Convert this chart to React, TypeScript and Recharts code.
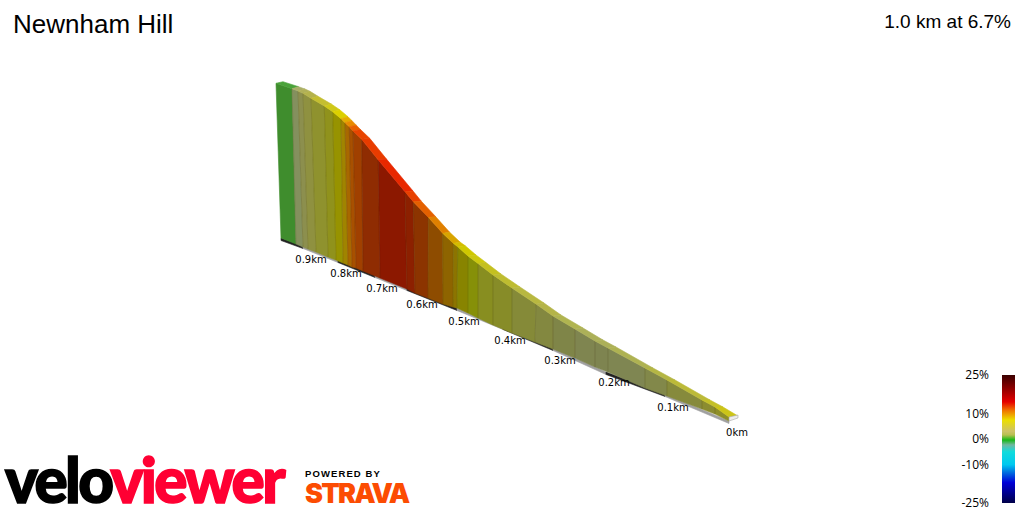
import { BarChart, Bar, Scatter, ComposedChart, XAxis, YAxis, LabelList } from 'recharts';

// wall panel corners (projected units), left to right
const topX = [276, 292, 298, 303, 311, 324.3, 332.7, 341, 345, 349.3, 353, 361.7, 378.3, 405, 413.3, 428.3, 442.7, 453.3, 457.7, 468, 478, 493, 512, 536, 553, 575, 595, 608, 645, 667, 702, 715, 729];
const topY = [83.3, 88.7, 91, 93.3, 98.3, 106, 111.7, 118.7, 122.7, 126.7, 131, 139.3, 160, 191.7, 201.7, 217.3, 233.3, 243.3, 246.7, 256, 263.5, 275, 288, 304, 316, 329, 341, 348, 368, 380, 400, 407, 417];
const baseX = [281, 296, 303, 308, 316, 328, 336, 343, 348, 352, 356, 363, 380, 407, 415, 428, 443, 453, 457, 468, 478, 493, 512, 535, 553, 575, 595, 608, 645, 667, 702, 715, 729];
const baseY = [238, 244, 247, 249, 252, 257, 260, 263, 265, 267, 268, 271, 278, 289, 293, 298, 304, 307, 308, 313, 318, 325, 333, 342, 349, 358, 367, 372, 388, 396, 409, 414, 421];

const wallColors = ['#3f8d2d', '#84905e', '#8c8f4e', '#8f9140', '#8f922e', '#90921c', '#979300', '#a08400', '#a86800', '#a85000', '#a04000', '#8f2c02', '#8c1800', '#8c2000', '#8c3400', '#8e4c00', '#8e6400', '#8c7400', '#888400', '#869008', '#888e20', '#878c28', '#858a38', '#838840', '#7f8548', '#7f8550', '#7e8450', '#7f8652', '#82884a', '#868a3c', '#8b8c30', '#8e8e28'];
const roofColors = ['#4aa23a', '#a8ae68', '#b0b058', '#b4b24c', '#c4be30', '#cfc818', '#dcd000', '#e4ac00', '#e88a00', '#e86000', '#e84400', '#e83c00', '#e82800', '#e84000', '#e46000', '#e08000', '#d8a400', '#d4bc00', '#cfc800', '#ccc810', '#c4c020', '#bebc30', '#b8b840', '#b4b448', '#b0b450', '#acb058', '#acb058', '#aeb252', '#b4b644', '#bcba38', '#c4c028', '#ccc418'];
const depthX = [7, 6.6, 7, 7, 7, 7, 7, 7, 7, 7, 7.5, 8, 8.4, 8, 8, 7.5, 7, 7, 7.5, 8, 8, 8, 8, 8, 8, 8, 8, 8, 8, 8, 8, 8, 9];
const depthY = [-1.6, -2, -2, -2, -2, -2, -2, -2, -2, -1.5, -1.5, -1, -0.7, -0.7, -0.5, -0.5, -1, -1, -1, -1, -1, -1, -1, -1, -1, -1, -1, -1, 0, 0, 0, 0, -1];

// distance strip under the wall
const kmX = [281, 303, 338, 375, 407, 457, 503, 553, 606, 665, 729];
const kmY = [238, 246, 260, 275, 288, 308, 327, 348, 372, 394, 421];

const kmLabels = ['0.9km', '0.8km', '0.7km', '0.6km', '0.5km', '0.4km', '0.3km', '0.2km', '0.1km', '0km'];
const kmLabelX = [311, 346, 382, 422, 464, 510, 560, 614, 673, 737];
const kmLabelY = [259, 273, 288, 304, 321, 340, 360, 382, 407, 432];

const capX = [729, 738, 738, 729];
const capY = [417, 415, 418, 421];

const legendTicks = [25, 10, 0, -10, -25];
const legendStops = [25, 20, 14.5, 11.3, 7.4, 3, 1.6, -0.4, -2.3, -5, -10, -13, -17, -21, -25];
const legendColors = ['#3a0000', '#8a0000', '#e60000', '#f07000', '#ecdf00', '#cdc268', '#b8c050', '#18b818', '#70b8a0', '#10dcdc', '#00c8f0', '#0070e0', '#0000d8', '#000090', '#000048'];

const noDot = () => <g />;

function Panel({ xs, ys, fill, stroke, strokeWidth = 0.6 }: { xs: number[]; ys: number[]; fill: string; stroke?: string; strokeWidth?: number }) {
  return (
    <Scatter
      data={xs.map((x, i) => ({ x, y: ys[i] }))}
      dataKey="y"
      shape={noDot}
      line={{ fill, stroke: stroke || fill, strokeWidth }}
      lineType="joint"
      lineJointType="linearClosed"
      isAnimationActive={false}
    />
  );
}

export default function App() {
  const stripPanels = kmX.slice(0, -1).map((x, i) => Panel({
    xs: [x, kmX[i + 1], kmX[i + 1], x],
    ys: [kmY[i], kmY[i + 1], kmY[i + 1] + 2.5, kmY[i] + 2.5],
    fill: i % 2 === 0 ? '#222222' : '#a0a0a0',
  }));
  const wallPanels = wallColors.map((c, i) => Panel({
    xs: [topX[i], topX[i + 1], baseX[i + 1], baseX[i]],
    ys: [topY[i], topY[i + 1], baseY[i + 1], baseY[i]],
    fill: c,
  }));
  // thin darker seams between the wall panels
  const seams = topX.slice(1, -1).map((x, i) => (
    <Scatter
      data={[{ x, y: topY[i + 1] }, { x: baseX[i + 1], y: baseY[i + 1] }]}
      dataKey="y"
      shape={noDot}
      line={{ stroke: 'rgba(60,50,0,0.22)', strokeWidth: 0.8 }}
      lineType="joint"
      isAnimationActive={false}
    />
  ));
  const roofPanels = roofColors.map((c, i) => Panel({
    xs: [topX[i], topX[i + 1], topX[i + 1] + depthX[i + 1], topX[i] + depthX[i]],
    ys: [topY[i], topY[i + 1], topY[i + 1] + depthY[i + 1], topY[i] + depthY[i]],
    fill: c,
  }));
  const labelData = kmLabels.map((label, i) => ({ x: kmLabelX[i], y: kmLabelY[i], label }));

  return (
    <div style={{ position: 'absolute', left: 0, top: 0, width: 1024, height: 512, background: '#fff', overflow: 'hidden' }}>
      <ComposedChart width={1024} height={512} margin={{ top: 0, right: 0, bottom: 0, left: 0 }} style={{ position: 'absolute', left: 0, top: 0 }}>
        <XAxis type="number" dataKey="x" domain={[0, 1024]} hide allowDataOverflow />
        <YAxis type="number" dataKey="y" domain={[0, 512]} reversed hide allowDataOverflow />
        {stripPanels}
        {wallPanels}
        {seams}
        {roofPanels}
        {Panel({ xs: capX, ys: capY, fill: '#ececec', stroke: '#a8a8a8' })}
        <Scatter data={labelData} dataKey="y" shape={noDot} isAnimationActive={false}>
          <LabelList dataKey="label" position="center" fill="#000" fontSize={10} fontFamily="DejaVu Sans" />
        </Scatter>
      </ComposedChart>

      <div style={{ position: 'absolute', left: 13, top: 9, fontFamily: 'Liberation Sans', fontSize: 26, color: '#000', whiteSpace: 'nowrap' }}>Newnham Hill</div>
      <div style={{ position: 'absolute', right: 13, top: 11, fontFamily: 'Liberation Sans', fontSize: 19, color: '#000', whiteSpace: 'nowrap' }}>1.0 km at 6.7%</div>

      <div style={{ position: 'absolute', left: 950, top: 365 }}>
        <BarChart width={74} height={148} data={[{ name: 'grade', range: [-25, 25] }]} margin={{ top: 10, right: 9, bottom: 10, left: 0 }} barCategoryGap={0}>
          <defs>
            <linearGradient id="gradeScale" x1="0" y1="0" x2="0" y2="1">
              {legendStops.map((p, i) => <stop key={p} offset={(25 - p) / 50} stopColor={legendColors[i]} />)}
            </linearGradient>
          </defs>
          <XAxis dataKey="name" hide />
          <YAxis
            type="number"
            domain={[-25, 25]}
            ticks={legendTicks}
            width={52}
            axisLine={false}
            tickLine={false}
            tickMargin={7}
            tickFormatter={(v: number) => `${v}%`}
            tick={{ fill: '#000', fontSize: 12, fontFamily: 'Open Sans' }}
            interval={0}
          />
          <Bar dataKey="range" fill="url(#gradeScale)" isAnimationActive={false} />
        </BarChart>
      </div>

      <svg width={1024} height={512} style={{ position: 'absolute', left: 0, top: 0 }}>
        <text x={5} y={503} fontFamily="Lato" fontWeight={900} fontSize={62} letterSpacing={-2.6} strokeWidth={1.6}>
          <tspan fill="#000" stroke="#000">velo</tspan><tspan fill="#ff0033" stroke="#ff0033">viewer</tspan>
        </text>
        <text x={305} y={477} fontFamily="Liberation Sans" fontWeight={700} fontSize={9.5} fill="#000" letterSpacing={1.1}>POWERED BY</text>
        <text x={305} y={503} fontFamily="Inter" fontWeight={900} fontSize={27} fill="#fc4c02" letterSpacing={-1.8}>STRAVA</text>
      </svg>
    </div>
  );
}
